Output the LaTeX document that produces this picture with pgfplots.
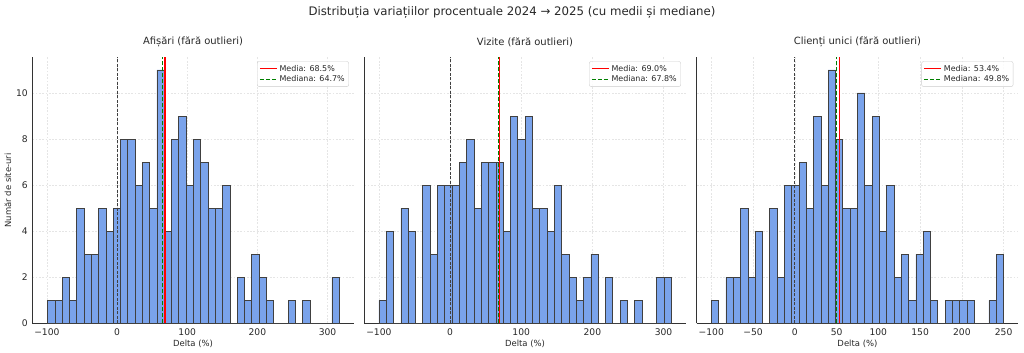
\documentclass[border=0pt]{standalone}
\usepackage{fontspec}
\setmainfont{DejaVu Sans}
\usepackage{pgfplots}
\pgfplotsset{compat=1.18}

\definecolor{barblue}{RGB}{122,163,235}
\definecolor{mgreen}{RGB}{0,128,0}
\definecolor{txt}{RGB}{40,40,40}

\pgfplotsset{
  hist/.style={
    scale only axis, width=321.5bp, height=266bp, anchor=south west,
    ymin=0, ymax=11.55,
    axis x line*=bottom, axis y line*=left,
    axis line style={black!80, line width=0.8bp},
    major tick length=0pt,
    grid=major,
    grid style={black!10, dash pattern=on 1.8bp off 1.5bp, line width=0.5bp},
    ytick={0,2,4,6,8,10},
    tick label style={font=\fontsize{9.2}{10}\selectfont, text=txt},
    xticklabel style={yshift=-2bp},
    yticklabel style={xshift=-1bp},
    /pgf/number format/assume math mode=true,
    xlabel={Delta (\%)},
    xlabel style={font=\fontsize{8.5}{10}\selectfont, text=txt, yshift=3bp},
    ylabel style={font=\fontsize{8.5}{10}\selectfont, text=txt},
    title style={font=\fontsize{10}{12}\selectfont, text=txt, yshift=1bp},
    legend style={font=\fontsize{8}{9}\selectfont, text=txt, draw=black!20, rounded corners=2bp,
      fill=white, fill opacity=0.85, text opacity=1,
      at={(0.985,0.985)}, anchor=north east, inner xsep=2bp, inner ysep=1.5bp,
      row sep=-1bp},
    legend cell align=left,
    bars/.style={ybar interval, fill=barblue, draw=black!75, line width=0.7bp, forget plot},
    zeroline/.style={black!75, dash pattern=on 3bp off 1.5bp, line width=0.7bp, forget plot},
    meanline/.style={red, line width=1.3bp},
    medline/.style={mgreen, dash pattern=on 4bp off 2bp, line width=1.3bp},
  }
}

\begin{document}
\begin{tikzpicture}
\useasboundingbox (0,0) rectangle (1024bp,353bp);

\node[font=\fontsize{11.8}{13}\selectfont, text=txt] at (512bp,341bp)
  {Distribuția variațiilor procentuale 2024 → 2025 (cu medii și mediane)};

% Panel 1
\begin{axis}[hist, at={(32.3bp,29.7bp)},
  xmin=-120.8, xmax=337.4,
  xtick={-100,0,100,200,300}, xticklabels={−100,0,100,200,300},
  ylabel={Număr de site-uri}, ylabel style={yshift=-2bp},
  title={Afișări (fără outlieri)}]
\addplot[bars] coordinates {
(-99.00,1) (-88.61,1) (-78.22,2) (-67.83,1) (-57.44,5) (-47.05,3) (-36.66,3) (-26.27,5)
(-15.88,4) (-5.49,5) (4.90,8) (15.29,8) (25.68,6) (36.07,7) (46.46,5) (56.85,11)
(67.24,4) (77.63,8) (88.02,9) (98.41,6) (108.80,8) (119.19,7) (129.58,5) (139.97,5)
(150.36,6) (160.75,0) (171.14,2) (181.53,1) (191.92,3) (202.31,2) (212.70,1) (223.09,0)
(233.48,0) (243.87,1) (254.26,0) (264.65,1) (275.04,0) (285.43,0) (295.82,0) (306.21,2)
(316.60,0)};
\addplot[zeroline] coordinates {(0,0) (0,11.55)};
\addplot[meanline] coordinates {(68.5,0) (68.5,11.55)};
\addlegendentry{Media: 68.5\%}
\addplot[medline] coordinates {(64.7,0) (64.7,11.55)};
\addlegendentry{Mediana: 64.7\%}
\end{axis}

% Panel 2
\begin{axis}[hist, at={(364.3bp,29.7bp)},
  xmin=-120.5, xmax=331.3,
  xtick={-100,0,100,200,300}, xticklabels={−100,0,100,200,300},
  yticklabels={},
  title={Vizite (fără outlieri)}]
\addplot[bars] coordinates {
(-99.90,1) (-89.63,4) (-79.36,0) (-69.09,5) (-58.82,4) (-48.55,0) (-38.28,6) (-28.01,3)
(-17.74,6) (-7.47,6) (2.80,6) (13.07,7) (23.34,8) (33.61,5) (43.88,7) (54.15,7)
(64.42,7) (74.69,4) (84.96,9) (95.23,8) (105.50,9) (115.77,5) (126.04,5) (136.31,4)
(146.58,6) (156.85,3) (167.12,2) (177.39,1) (187.66,2) (197.93,3) (208.20,0) (218.47,2)
(228.74,0) (239.01,1) (249.28,0) (259.55,1) (269.82,0) (280.09,0) (290.36,2) (300.63,2)
(310.90,0)};
\addplot[zeroline] coordinates {(0,0) (0,11.55)};
\addplot[meanline] coordinates {(69.0,0) (69.0,11.55)};
\addlegendentry{Media: 69.0\%}
\addplot[medline] coordinates {(67.8,0) (67.8,11.55)};
\addlegendentry{Mediana: 67.8\%}
\end{axis}

% Panel 3
\begin{axis}[hist, at={(696.7bp,29.7bp)},
  xmin=-117.5, xmax=267.5,
  xtick={-100,-50,0,50,100,150,200,250}, xticklabels={−100,−50,0,50,100,150,200,250},
  yticklabels={},
  title={Clienți unici (fără outlieri)}]
\addplot[bars] coordinates {
(-100,1) (-91.25,0) (-82.5,2) (-73.75,2) (-65,5) (-56.25,2) (-47.5,4) (-38.75,0)
(-30,5) (-21.25,2) (-12.5,6) (-3.75,6) (5,7) (13.75,5) (22.5,9) (31.25,6)
(40,11) (48.75,8) (57.5,5) (66.25,5) (75,10) (83.75,6) (92.5,9) (101.25,4)
(110,6) (118.75,2) (127.5,3) (136.25,1) (145,3) (153.75,4) (162.5,1) (171.25,0)
(180,1) (188.75,1) (197.5,1) (206.25,1) (215,0) (223.75,0) (232.5,1) (241.25,3)
(250,0)};
\addplot[zeroline] coordinates {(0,0) (0,11.55)};
\addplot[meanline] coordinates {(53.4,0) (53.4,11.55)};
\addlegendentry{Media: 53.4\%}
\addplot[medline] coordinates {(49.8,0) (49.8,11.55)};
\addlegendentry{Mediana: 49.8\%}
\end{axis}
\end{tikzpicture}
\end{document}
